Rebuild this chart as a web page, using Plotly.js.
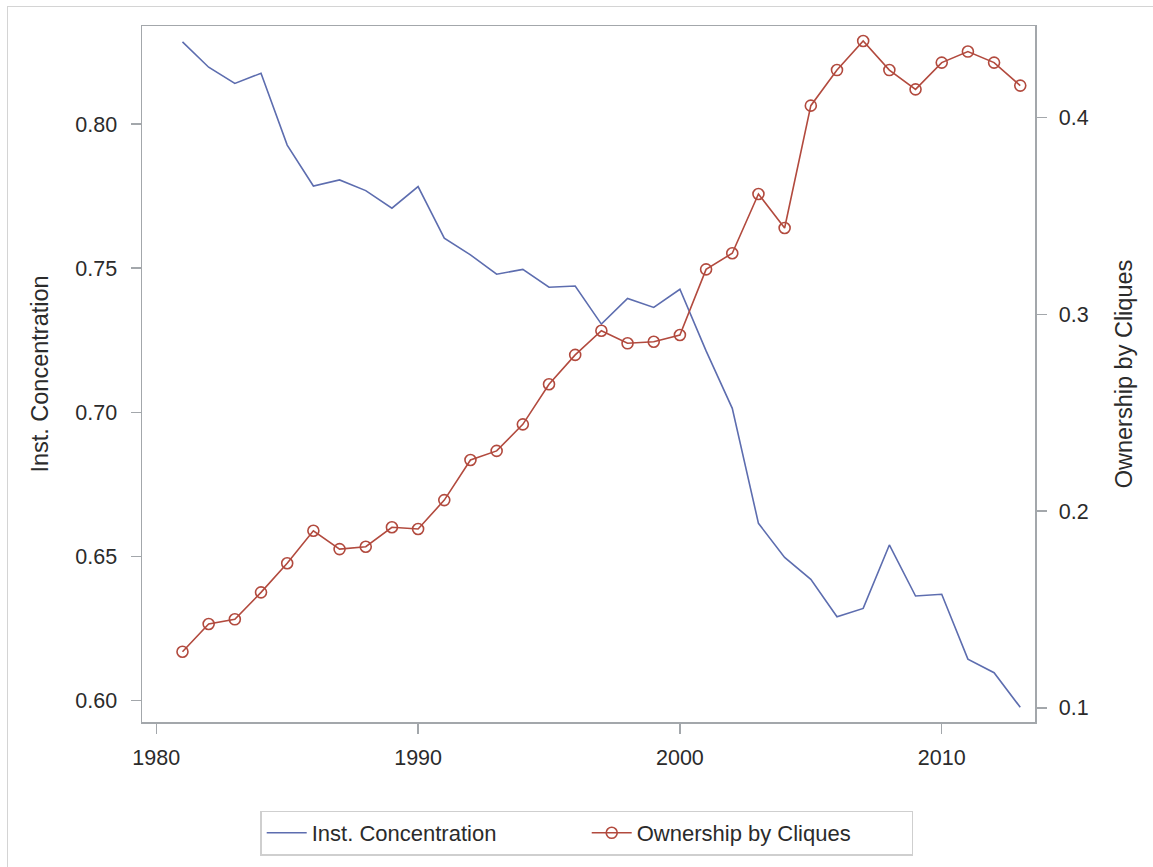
<!DOCTYPE html>
<html>
<head>
<meta charset="utf-8">
<script src="https://cdn.plot.ly/plotly-3.0.1.min.js"></script>
<style>
  html, body { margin: 0; padding: 0; background: #fff; }
  #frame { position: absolute; left: 7px; top: 6px; width: 1200px; height: 900px;
           border-left: 1px solid #d4d4d4; border-top: 1px solid #d4d4d4; }
  #chart { position: absolute; left: 0; top: 0; width: 1153px; height: 867px; }
</style>
</head>
<body>
<div id="frame"></div>
<div id="chart"></div>
<script>
const years = [1981,1982,1983,1984,1985,1986,1987,1988,1989,1990,
               1991,1992,1993,1994,1995,1996,1997,1998,1999,2000,
               2001,2002,2003,2004,2005,2006,2007,2008,2009,2010,
               2011,2012,2013];
const instConcentration = [0.8285,0.8197,0.8141,0.8176,0.7927,0.7785,0.7806,0.7769,0.7708,0.7783,
                           0.7604,0.7546,0.7479,0.7496,0.7434,0.7438,0.7306,0.7395,0.7364,0.7427,
                           0.7213,0.7014,0.6615,0.6497,0.6421,0.6291,0.6320,0.6540,0.6363,0.6369,
                           0.6144,0.6097,0.5977];
const ownershipCliques = [0.1285,0.1426,0.1450,0.1587,0.1735,0.1900,0.1807,0.1819,0.1918,0.1909,
                          0.2056,0.2260,0.2306,0.2441,0.2645,0.2794,0.2917,0.2853,0.2861,0.2895,
                          0.3229,0.3311,0.3612,0.3439,0.4061,0.4242,0.4390,0.4242,0.4144,0.4280,
                          0.4336,0.4280,0.4163];
const xTicks = [1980,1990,2000,2010];
const yTicks = [0.60,0.65,0.70,0.75,0.80];
const yTickText = ['0.60','0.65','0.70','0.75','0.80'];
const y2Ticks = [0.1,0.2,0.3,0.4];
const y2TickText = ['0.1','0.2','0.3','0.4'];

const FONT = '"Liberation Sans", Arial, sans-serif';
const AXC = '#a3a7ab';
const TXT = '#2b2b2b';

const traces = [
  { x: years, y: instConcentration, name: 'Inst. Concentration', type: 'scatter', mode: 'lines',
    line: { color: '#5d6daf', width: 1.6 }, yaxis: 'y' },
  { x: years, y: ownershipCliques, name: 'Ownership by Cliques', type: 'scatter', mode: 'lines+markers',
    line: { color: '#b24a3e', width: 1.6 },
    marker: { symbol: 'circle-open', size: 11, color: '#b24a3e', line: { width: 1.6, color: '#b24a3e' } },
    yaxis: 'y2' }
];

const layout = {
  width: 1153, height: 867,
  margin: { l: 142, r: 118, t: 26, b: 145, pad: 0 },
  paper_bgcolor: 'rgba(0,0,0,0)', plot_bgcolor: '#fff',
  font: { family: FONT, color: TXT, size: 21 },
  showlegend: true,
  xaxis: {
    range: [1979.454, 2013.563], tickvals: xTicks, ticktext: xTicks.map(String),
    showgrid: false, zeroline: false, showline: true, linecolor: AXC, linewidth: 1.5, mirror: true,
    ticks: 'outside', ticklen: 10, tickcolor: AXC, tickwidth: 1.5,
    tickfont: { family: FONT, size: 21.5, color: TXT }, ticklabelstandoff: 6
  },
  yaxis: {
    range: [0.5926, 0.8340], tickvals: yTicks, ticktext: yTickText,
    showgrid: false, zeroline: false, showline: true, linecolor: AXC, linewidth: 1.5,
    ticks: 'outside', ticklen: 10, tickcolor: AXC, tickwidth: 1.5,
    tickfont: { family: FONT, size: 21.5, color: TXT }, ticklabelstandoff: 9,
    title: { text: 'Inst. Concentration', font: { family: FONT, size: 23.5, color: TXT }, standoff: 20 }
  },
  yaxis2: {
    overlaying: 'y', side: 'right',
    range: [0.0928, 0.4466], tickvals: y2Ticks, ticktext: y2TickText,
    showgrid: false, zeroline: false, showline: true, linecolor: AXC, linewidth: 1.5,
    ticks: 'outside', ticklen: 10, tickcolor: AXC, tickwidth: 1.5,
    tickfont: { family: FONT, size: 21.5, color: TXT }, ticklabelstandoff: 8,
    title: { text: 'Ownership by Cliques', font: { family: FONT, size: 23.5, color: TXT }, standoff: 28 }
  },
  legend: {
    orientation: 'h', x: 0.498, xanchor: 'center', y: -0.1595, yanchor: 'middle',
    bordercolor: '#cfcfcf', borderwidth: 1.5, bgcolor: '#fff',
    font: { family: FONT, size: 22, color: TXT },
    itemwidth: 40, tracegroupgap: 0, entrywidth: 270, entrywidthmode: 'pixels'
  }
};

Plotly.newPlot('chart', traces, layout, { displayModeBar: false, staticPlot: true });
</script>
</body>
</html>
